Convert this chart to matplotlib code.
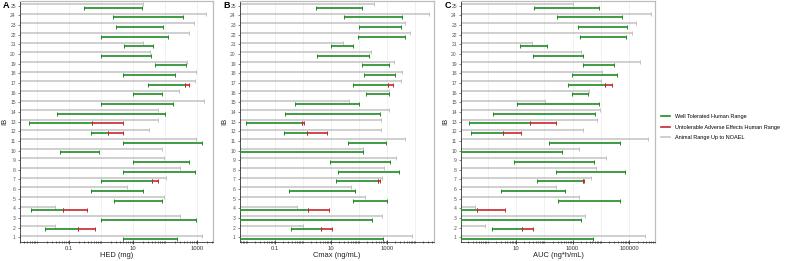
import numpy as np
import matplotlib.pyplot as plt
from matplotlib.lines import Line2D
from matplotlib.ticker import LogLocator, NullFormatter, FixedLocator, FixedFormatter

plt.rcParams['font.family'] = ['Liberation Sans', 'DejaVu Sans']

rows = np.arange(1, 26)
nan = np.nan

# Panel A - HED (mg), rows 1..25
hed_animal = [1400, 0.036, 290, 0.036, 96, 6.4, 105, 290, 96, 80, 960, 32, 59,
              59, 1600, 270, 850, 950, 480, 33, 20, 550, 780, 1900, 20]
hed_well_lo = [5.0, 0.018, 1.0, 0.0065, 2.5, 0.5, 1.0, 5.0, 10, 0.053, 5.0, 0.5, 0.0056,
               0.043, 1.0, 10, 29, 5.0, 50, 1.0, 5.3, 1.0, 3.0, 2.4, 0.3]
hed_well_hi = [230, 0.19, 950, 0.065, 80, 20, 40, 870, 580, 0.85, 1400, 1.6, 0.52,
               100, 175, 80, 430, 200, 440, 36, 43, 120, 89, 360, 19]
hed_bad_hi = [nan, 0.64, nan, 0.37, nan, nan, 60, nan, nan, nan, nan, 5.0, 5.0,
              nan, nan, nan, 580, nan, nan, nan, nan, nan, nan, nan, nan]

# Panel B - Cmax (ng/mL); 0 = lower bound not given
cmax_animal = [7800, 1.0, 680, 0.625, 168, 51, 680, 780, 2150, 136, 4400, 610, 610,
               1210, 44, 1210, 3160, 3350, 1780, 262, 27.5, 6800, 4400, 32000, 350]
cmax_well_lo = [0, 0.38, 0, 0, 61, 0.32, 14.7, 18, 9.0, 0, 39, 0.215, 0.009,
                0.23, 0.53, 173, 62.5, 147, 128, 3.2, 10, 92, 100, 30, 2.8]
cmax_well_hi = [740, 4.5, 285, 1.55, 1025, 74, 480, 2750, 1300, 145, 906, 1.36, 0.9,
                553, 100, 1180, 1060, 1930, 1180, 233, 60, 4500, 3080, 3350, 125]
cmax_bad_hi = [nan, 11.3, nan, 8.3, nan, nan, 550, nan, nan, nan, nan, 7.0, 1.1,
               nan, nan, nan, 1600, nan, nan, nan, nan, nan, nan, nan, nan]

# Panel C - AUC (ng*h/mL)
auc_animal = [361000, 0.78, 2740, 0.365, 1730, 265, 4580, 6550, 15000, 1730, 460000, 2390, 7400,
              9300, 108, 3700, 10000, 10700, 240000, 1980, 36, 126000, 174000, 590000, 1060]
auc_well_lo = [0, 1.42, 0, 0, 313, 2.9, 55, 253, 8.7, 0, 150, 0.26, 0.22,
               1.5, 11, 930, 705, 930, 2330, 40, 14.4, 1820, 1510, 274, 44]
auc_well_hi = [5130, 15.9, 1930, 0.43, 47000, 540, 2280, 71000, 5700, 412, 47000, 3.4, 31,
               6000, 8800, 3590, 14000, 37000, 29000, 2280, 120, 77000, 84000, 56000, 8800]
auc_bad_hi = [nan, 41, nan, 4.2, nan, nan, 2450, nan, nan, nan, nan, 14.7, 259,
              nan, nan, nan, 24500, nan, nan, nan, nan, nan, nan, nan, nan]

GREEN = '#1f8a24'
RED = '#c8262c'
GREY = '#c2c2c2'


def draw_panel(ax, animal, well_lo, well_hi, bad_hi, xlim, ticks, ticklabels, xlabel):
    animal = np.array(animal, float)
    well_lo = np.array(well_lo, float)
    well_hi = np.array(well_hi, float)
    bad_hi = np.array(bad_hi, float)
    left = xlim[0]
    well_lo = np.where(well_lo > 0, well_lo, left)

    # faint vertical grid at each decade
    for d in range(int(np.floor(np.log10(xlim[0]))), int(np.ceil(np.log10(xlim[1]))) + 1):
        ax.axvline(10.0 ** d, color='#ebebeb', lw=0.5, zorder=0)

    ax.errorbar(np.full(25, left), rows + 0.18, xerr=[np.zeros(25), animal - left],
                fmt='none', ecolor=GREY, elinewidth=1.1, capsize=1.6, capthick=0.7, zorder=2)
    ax.errorbar(well_lo, rows - 0.18, xerr=[np.zeros(25), well_hi - well_lo],
                fmt='none', ecolor=GREEN, elinewidth=1.2, capsize=1.6, capthick=0.7, zorder=3)
    m = ~np.isnan(bad_hi)
    ax.errorbar(well_hi[m], rows[m] - 0.18, xerr=[np.zeros(m.sum()), bad_hi[m] - well_hi[m]],
                fmt='none', ecolor=RED, elinewidth=1.2, capsize=1.6, capthick=0.7, zorder=4)

    ax.set_xscale('log')
    ax.set_xlim(xlim)
    ax.set_ylim(0.55, 25.55)
    ax.set_yticks(rows)
    ax.set_yticklabels([str(r) for r in rows])
    ax.xaxis.set_major_locator(FixedLocator(ticks))
    ax.xaxis.set_major_formatter(FixedFormatter(ticklabels))
    ax.xaxis.set_minor_locator(LogLocator(base=10, subs=np.arange(1, 10), numticks=50))
    ax.xaxis.set_minor_formatter(NullFormatter())
    ax.tick_params(axis='x', which='major', direction='inout', length=3.5, width=0.6,
                   labelsize=4.2, pad=1.5, colors='#333333')
    ax.tick_params(axis='x', which='minor', direction='inout', length=2, width=0.5, color='#333333')
    ax.tick_params(axis='y', length=1.8, width=0.5, labelsize=3.6, pad=1.2,
                   colors='#555555')
    ax.set_xlabel(xlabel, fontsize=5.4, labelpad=0.8, color='#222222')
    ax.set_ylabel('IB', fontsize=5.4, labelpad=1.5, color='#222222')
    for s in ('left', 'bottom'):
        ax.spines[s].set_color('#333333')
        ax.spines[s].set_linewidth(0.6)
    for s in ('top', 'right'):
        ax.spines[s].set_color('#bdbdbd')
        ax.spines[s].set_linewidth(0.9)


fig = plt.figure(figsize=(7.89, 2.61), dpi=100)
bottom = 1 - 241.7 / 261
height = 0.998 - bottom
axA = fig.add_axes([20 / 789, bottom, 193 / 789, height])
axB = fig.add_axes([240 / 789, bottom, 194 / 789, height])
axC = fig.add_axes([461 / 789, bottom, 194 / 789, height])

draw_panel(axA, hed_animal, hed_well_lo, hed_well_hi, hed_bad_hi,
           (10 ** -2.53, 10 ** 3.5), [0.1, 10, 1000], ['0.1', '10', '1000'], 'HED (mg)')
draw_panel(axB, cmax_animal, cmax_well_lo, cmax_well_hi, cmax_bad_hi,
           (10 ** -2.25, 10 ** 4.68), [0.1, 10, 1000], ['0.1', '10', '1000'], 'Cmax (ng/mL)')
draw_panel(axC, auc_animal, auc_well_lo, auc_well_hi, auc_bad_hi,
           (10 ** -0.94, 10 ** 5.91), [10, 1000, 100000], ['10', '1000', '100000'], 'AUC (ng*h/mL)')

for letter, xp in (('A', 3), ('B', 223), ('C', 445)):
    fig.text(xp / 789, 1 - 5 / 261, letter, fontsize=6.5, fontweight='bold', va='center')

handles = [Line2D([], [], color=GREEN, lw=1.2),
           Line2D([], [], color=RED, lw=1.2),
           Line2D([], [], color=GREY, lw=1.1)]
labels = ['Well Tolerated Human Range', 'Untolerable Adverse Effects Human Range',
          'Animal Range Up to NOAEL']
fig.legend(handles, labels, loc='center left', bbox_to_anchor=(0.835, 0.513),
           frameon=False, fontsize=4.0, handlelength=1.6, handletextpad=0.9,
           labelspacing=0.95, borderaxespad=0)

plt.savefig('out.png', dpi=100)
